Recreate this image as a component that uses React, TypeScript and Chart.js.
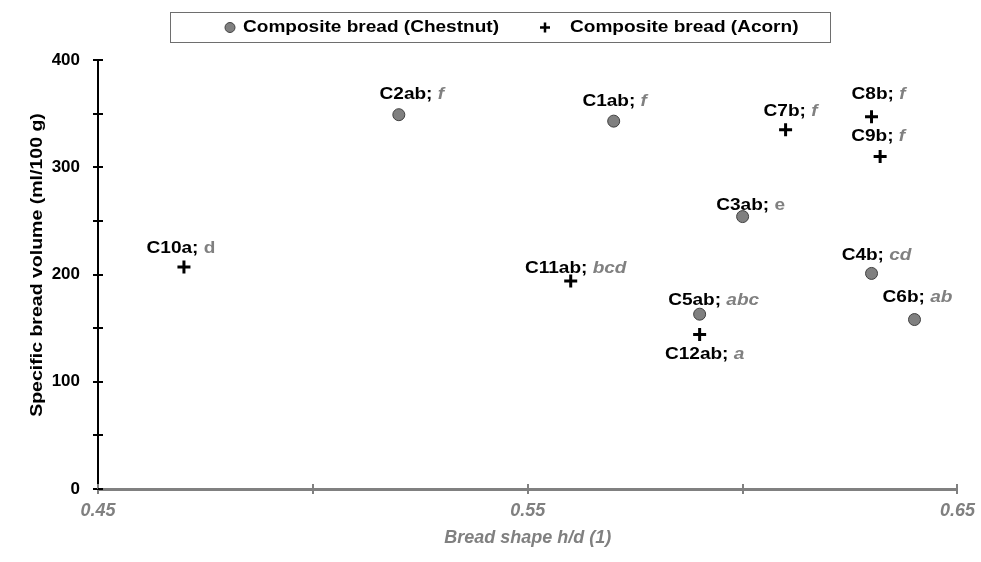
import React, { useEffect, useRef } from "react";
import { Chart, registerables } from "chart.js";

Chart.register(...registerables);

// ---- data ----
const chestnutNames = ["C1ab", "C2ab", "C3ab", "C4b", "C5ab", "C6b"];
const chestnutGroups = ["f", "f", "e", "cd", "abc", "ab"];
const chestnutShape = [0.57, 0.52, 0.6, 0.63, 0.59, 0.64];
const chestnutVolume = [343, 349, 254, 201, 163, 158];

const acornNames = ["C7b", "C8b", "C9b", "C10a", "C11ab", "C12ab"];
const acornGroups = ["f", "f", "f", "d", "bcd", "a"];
const acornShape = [0.61, 0.63, 0.632, 0.47, 0.56, 0.59];
const acornVolume = [335, 347, 310, 207, 194, 144];

const xTickLabels = [0.45, 0.55, 0.65];
const yTickLabels = [0, 100, 200, 300, 400];

const seriesNames = ["Composite bread (Chestnut)", "Composite bread (Acorn)"];
const xTitle = "Bread shape h/d (1)";
const yTitle = "Specific bread volume (ml/100 g)";

// ---- label placement (style, not data) ----
const chestnutLabelOffset = [
  [1, -20], [13, -20], [8, -11], [5, -18], [14, -14], [3, -22],
];
const acornLabelOffset = [
  [5, -18], [7, -22], [-2, -20], [-3, -18], [5, -12], [5, 20],
];
const uprightGroups = ["d", "e"];

const FONT = "'Liberation Sans', Arial, sans-serif";
const NARROW = "'Liberation Sans Narrow', 'Liberation Sans', Arial, sans-serif";
const GRAY = "#808080";
const STRETCH = 1.19;
const LABEL_SIZE = 16;

type Part = { text: string; font: string; color: string };

function drawParts(ctx: CanvasRenderingContext2D, parts: Part[], x: number, y: number, sx: number, align: "center" | "left") {
  let w = 0;
  for (const p of parts) {
    ctx.font = p.font;
    w += ctx.measureText(p.text).width;
  }
  const start = align === "center" ? x - (w * sx) / 2 : x;
  ctx.save();
  ctx.translate(start, y);
  ctx.scale(sx, 1);
  ctx.textBaseline = "middle";
  ctx.textAlign = "left";
  let cx = 0;
  for (const p of parts) {
    ctx.font = p.font;
    ctx.fillStyle = p.color;
    ctx.fillText(p.text, cx, 0);
    cx += ctx.measureText(p.text).width;
  }
  ctx.restore();
}

const decorPlugin = {
  id: "decor",
  beforeDatasetsDraw(chart: any) {
    const ctx: CanvasRenderingContext2D = chart.ctx;
    const xs = chart.scales.x;
    const ys = chart.scales.y;
    const ca = chart.chartArea;
    ctx.save();
    // inner halves of tick marks
    ctx.strokeStyle = GRAY;
    ctx.lineWidth = 2;
    for (const t of xs.ticks) {
      const px = Math.round(xs.getPixelForValue(t.value));
      ctx.beginPath();
      ctx.moveTo(px, ca.bottom);
      ctx.lineTo(px, ca.bottom - 5);
      ctx.stroke();
    }
    ctx.strokeStyle = "#000";
    for (const t of ys.ticks) {
      const py = Math.round(ys.getPixelForValue(t.value));
      ctx.beginPath();
      ctx.moveTo(ca.left, py);
      ctx.lineTo(ca.left + 5, py);
      ctx.stroke();
    }
    ctx.restore();
  },
  afterDatasetsDraw(chart: any) {
    const ctx: CanvasRenderingContext2D = chart.ctx;
    const groups = [
      { names: chestnutNames, grp: chestnutGroups, off: chestnutLabelOffset },
      { names: acornNames, grp: acornGroups, off: acornLabelOffset },
    ];
    groups.forEach((g, di) => {
      const meta = chart.getDatasetMeta(di);
      meta.data.forEach((el: any, i: number) => {
        const [dx, dy] = g.off[i];
        const italic = uprightGroups.indexOf(g.grp[i]) < 0;
        drawParts(
          ctx,
          [
            { text: g.names[i] + "; ", font: `bold ${LABEL_SIZE}px ${FONT}`, color: "#000" },
            { text: g.grp[i], font: `${italic ? "italic " : ""}bold ${LABEL_SIZE}px ${FONT}`, color: GRAY },
          ],
          el.x + dx,
          el.y + dy,
          STRETCH,
          "center"
        );
      });
    });

    // legend
    ctx.save();
    ctx.strokeStyle = "#6e6e6e";
    ctx.lineWidth = 1;
    ctx.strokeRect(170.5, 12.5, 660, 30);
    ctx.beginPath();
    ctx.arc(230, 27.5, 5, 0, Math.PI * 2);
    ctx.fillStyle = GRAY;
    ctx.fill();
    ctx.strokeStyle = "#404040";
    ctx.stroke();
    ctx.strokeStyle = "#000";
    ctx.lineWidth = 2.5;
    ctx.beginPath();
    ctx.moveTo(540, 27.5);
    ctx.lineTo(550, 27.5);
    ctx.moveTo(545, 22.5);
    ctx.lineTo(545, 32.5);
    ctx.stroke();
    ctx.restore();
    drawParts(ctx, [{ text: seriesNames[0], font: `bold ${LABEL_SIZE}px ${FONT}`, color: "#000" }], 243, 28, STRETCH, "left");
    drawParts(ctx, [{ text: seriesNames[1], font: `bold ${LABEL_SIZE}px ${FONT}`, color: "#000" }], 570, 28, STRETCH, "left");

    // y title
    ctx.save();
    ctx.translate(38, 265);
    ctx.rotate(-Math.PI / 2);
    drawParts(ctx, [{ text: yTitle, font: `bold 16px ${FONT}`, color: "#000" }], 0, 0, 1.22, "center");
    ctx.restore();

    // x title
    const ca = chart.chartArea;
    drawParts(ctx, [{ text: xTitle, font: `italic bold 18px ${NARROW}`, color: GRAY }], (ca.left + ca.right) / 2, 538, 1, "center");
  },
};

export default function App() {
  const ref = useRef<HTMLCanvasElement | null>(null);
  useEffect(() => {
    if (!ref.current) return;
    const chart = new Chart(ref.current, {
      type: "scatter",
      data: {
        datasets: [
          {
            label: seriesNames[0],
            data: chestnutShape.map((x, i) => ({ x, y: chestnutVolume[i] })),
            pointStyle: "circle",
            pointRadius: 6,
            pointBackgroundColor: GRAY,
            pointBorderColor: "#404040",
            pointBorderWidth: 1,
          },
          {
            label: seriesNames[1],
            data: acornShape.map((x, i) => ({ x, y: acornVolume[i] })),
            pointStyle: "cross",
            pointRadius: 6.5,
            pointBorderColor: "#000",
            pointBorderWidth: 3,
          },
        ],
      },
      options: {
        animation: false,
        responsive: true,
        maintainAspectRatio: false,
        layout: { padding: { left: 0, right: 22, top: 60, bottom: 0 } },
        plugins: { legend: { display: false }, tooltip: { enabled: false } },
        scales: {
          x: {
            type: "linear",
            min: 0.45,
            max: 0.65,
            afterFit: (s: any) => {
              s.height = 73;
            },
            ticks: {
              stepSize: 0.05,
              autoSkip: false,
              maxRotation: 0,
              padding: 6,
              color: GRAY,
              font: { family: NARROW, size: 18, style: "italic", weight: "bold" },
              callback: (v: any) => {
                const t = xTickLabels.find((k) => Math.abs(k - Number(v)) < 1e-6);
                return t === undefined ? "" : t.toFixed(2);
              },
            },
            grid: {
              drawOnChartArea: false,
              drawTicks: true,
              tickLength: 5,
              color: GRAY,
              lineWidth: 2,
            },
            border: { display: true, color: GRAY, width: 3 },
          },
          y: {
            type: "linear",
            min: 0,
            max: 400,
            afterFit: (s: any) => {
              s.width = 98;
            },
            ticks: {
              stepSize: 50,
              autoSkip: false,
              padding: 13,
              color: "#000",
              font: { family: FONT, size: 17, weight: "bold" },
              callback: (v: any) => (yTickLabels.indexOf(Number(v)) >= 0 ? String(v) : ""),
            },
            grid: {
              drawOnChartArea: false,
              drawTicks: true,
              tickLength: 5,
              color: "#000",
              lineWidth: 2,
            },
            border: { display: true, color: "#000", width: 2 },
          },
        },
      },
      plugins: [decorPlugin],
    });
    return () => chart.destroy();
  }, []);
  return (
    <div style={{ position: "fixed", left: 0, top: 0, width: 981, height: 562, background: "#fff" }}>
      <canvas ref={ref} />
    </div>
  );
}
